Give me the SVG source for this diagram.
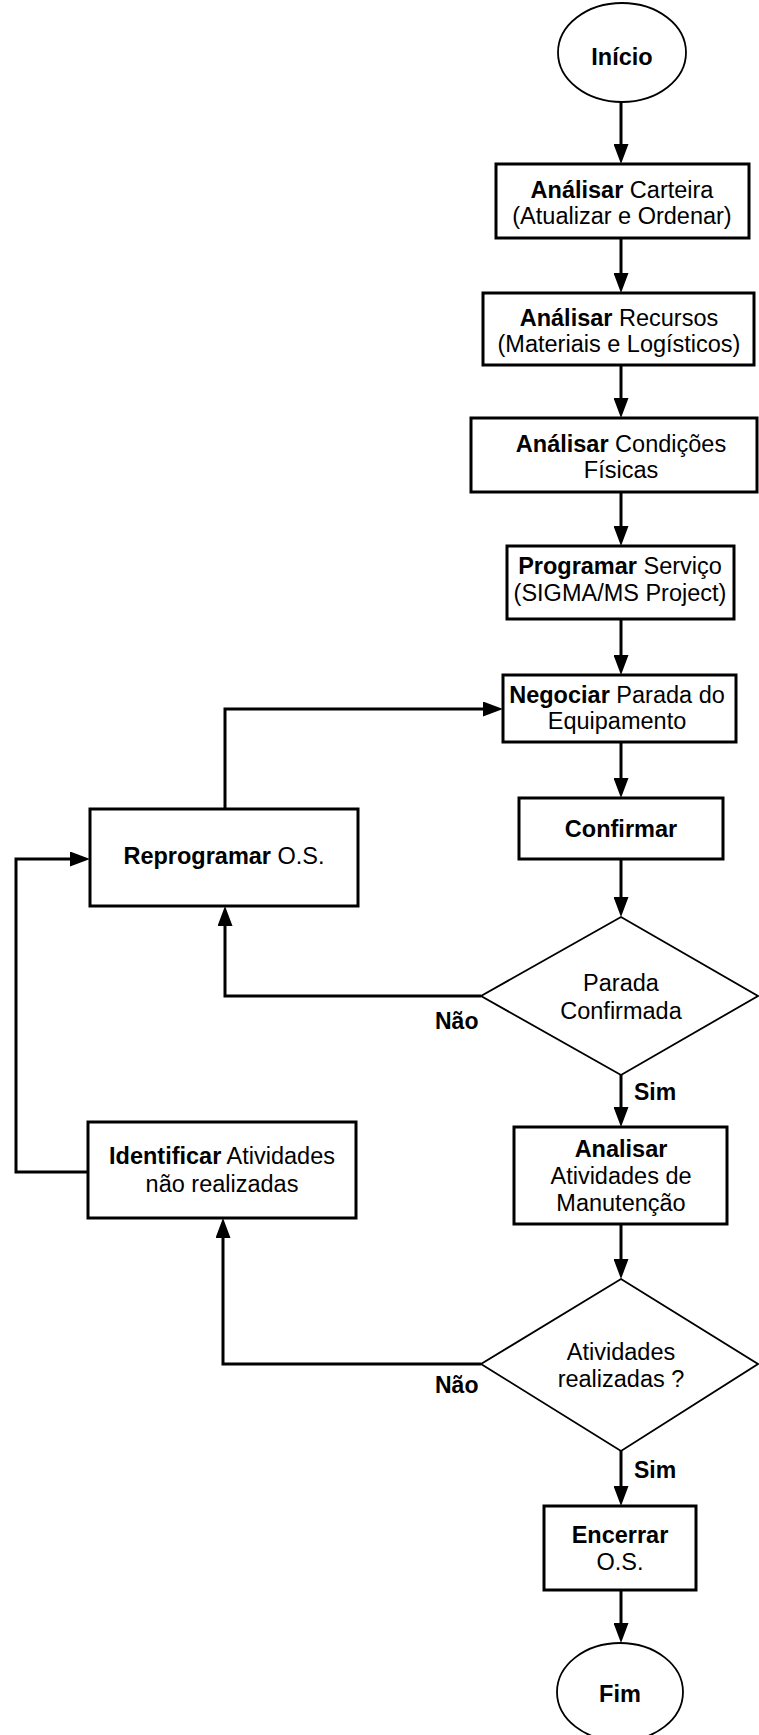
<svg xmlns="http://www.w3.org/2000/svg" width="759" height="1735" viewBox="0 0 759 1735">
<defs>
<style>
.box{fill:#fff;stroke:#000;stroke-width:3}
.thin{fill:#fff;stroke:#000;stroke-width:1.8}
.t{font-family:"Liberation Sans",Arial,sans-serif;font-size:23.5px;fill:#000;text-anchor:middle}
.b{font-weight:bold}
.lbl{font-family:"Liberation Sans",Arial,sans-serif;font-size:23px;font-weight:bold;fill:#000}
.c{fill:none;stroke:#000;stroke-width:3}
</style>
<marker id="ah" markerUnits="userSpaceOnUse" markerWidth="20" markerHeight="15" refX="10" refY="7.5" orient="auto">
<path d="M0,0 L20,7.5 L0,15 Z" fill="#000"/>
</marker>
</defs>
<rect width="759" height="1735" fill="#fff"/>
<g id="connectors">
<path class="c" d="M621,102 V154" marker-end="url(#ah)"/>
<path class="c" d="M621,238 V283" marker-end="url(#ah)"/>
<path class="c" d="M621,365 V408" marker-end="url(#ah)"/>
<path class="c" d="M621,492 V536" marker-end="url(#ah)"/>
<path class="c" d="M621,619 V665" marker-end="url(#ah)"/>
<path class="c" d="M621,742 V788" marker-end="url(#ah)"/>
<path class="c" d="M621,859 V907" marker-end="url(#ah)"/>
<path class="c" d="M621,1075 V1117" marker-end="url(#ah)"/>
<path class="c" d="M621,1224 V1269" marker-end="url(#ah)"/>
<path class="c" d="M621,1451 V1496" marker-end="url(#ah)"/>
<path class="c" d="M621,1590 V1633" marker-end="url(#ah)"/>
<path class="c" d="M481,996 H225 V916" marker-end="url(#ah)"/>
<path class="c" d="M225,809 V709 H493" marker-end="url(#ah)"/>
<path class="c" d="M481,1364 H223 V1228" marker-end="url(#ah)"/>
<path class="c" d="M88,1172 H16 V859 H80" marker-end="url(#ah)"/>
</g>
<g id="inicio">
<ellipse class="thin" cx="622" cy="52.5" rx="64" ry="49.5"/>
<text class="t b" x="622" y="65">Início</text>
</g>
<g id="analisar-carteira">
<rect class="box" x="496" y="164" width="253" height="74"/>
<text class="t" x="622" y="198"><tspan class="b">Análisar</tspan> Carteira</text>
<text class="t" x="622" y="224">(Atualizar e Ordenar)</text>
</g>
<g id="analisar-recursos">
<rect class="box" x="483" y="293" width="271" height="72"/>
<text class="t" x="619" y="326"><tspan class="b">Análisar</tspan> Recursos</text>
<text class="t" x="619" y="352">(Materiais e Logísticos)</text>
</g>
<g id="analisar-condicoes">
<rect class="box" x="471" y="418" width="286" height="74"/>
<text class="t" x="621" y="452"><tspan class="b">Análisar</tspan> Condições</text>
<text class="t" x="621" y="478">Físicas</text>
</g>
<g id="programar">
<rect class="box" x="507" y="546" width="227" height="73"/>
<text class="t" x="620" y="574"><tspan class="b">Programar</tspan> Serviço</text>
<text class="t" x="620" y="601">(SIGMA/MS Project)</text>
</g>
<g id="negociar">
<rect class="box" x="503" y="675" width="233" height="67"/>
<text class="t" x="617" y="703"><tspan class="b">Negociar</tspan> Parada do</text>
<text class="t" x="617" y="729">Equipamento</text>
</g>
<g id="confirmar">
<rect class="box" x="519" y="798" width="204" height="61"/>
<text class="t b" x="621" y="837">Confirmar</text>
</g>
<g id="parada-confirmada">
<polygon class="thin" points="621,917 758,996 621,1075 481,996"/>
<text class="t" x="621" y="991">Parada</text>
<text class="t" x="621" y="1019">Confirmada</text>
</g>
<g id="reprogramar">
<rect class="box" x="90" y="809" width="268" height="97"/>
<text class="t" x="224" y="864"><tspan class="b">Reprogramar</tspan> O.S.</text>
</g>
<g id="analisar-atividades">
<rect class="box" x="514" y="1127" width="213" height="97"/>
<text class="t b" x="621" y="1157">Analisar</text>
<text class="t" x="621" y="1184">Atividades de</text>
<text class="t" x="621" y="1211">Manutenção</text>
</g>
<g id="identificar">
<rect class="box" x="88" y="1122" width="268" height="96"/>
<text class="t" x="222" y="1164"><tspan class="b">Identificar</tspan> Atividades</text>
<text class="t" x="222" y="1192">não realizadas</text>
</g>
<g id="atividades-realizadas">
<polygon class="thin" points="621,1279 758,1364 621,1451 481,1364"/>
<text class="t" x="621" y="1360">Atividades</text>
<text class="t" x="621" y="1387">realizadas ?</text>
</g>
<g id="encerrar">
<rect class="box" x="544" y="1506" width="152" height="84"/>
<text class="t b" x="620" y="1543">Encerrar</text>
<text class="t" x="620" y="1570">O.S.</text>
</g>
<g id="fim">
<ellipse class="thin" cx="620" cy="1692" rx="63" ry="49"/>
<text class="t b" x="620" y="1702">Fim</text>
</g>
<g id="labels">
<text class="lbl" x="435" y="1029">Não</text>
<text class="lbl" x="634" y="1100">Sim</text>
<text class="lbl" x="435" y="1393">Não</text>
<text class="lbl" x="634" y="1478">Sim</text>
</g>
</svg>
